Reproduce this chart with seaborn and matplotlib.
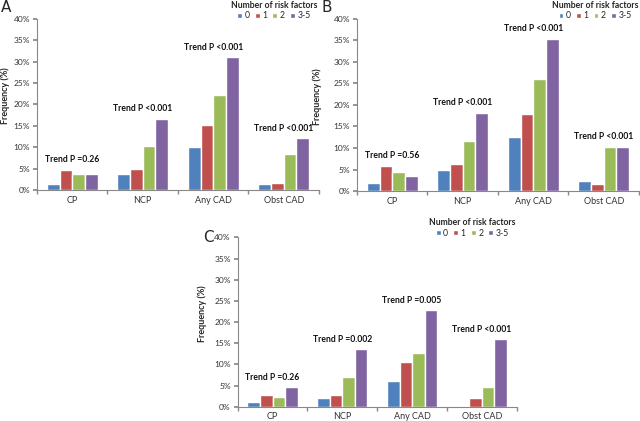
import numpy as np
import pandas as pd
import matplotlib
matplotlib.use("Agg")
import matplotlib.pyplot as plt
import seaborn as sns
from matplotlib.ticker import FuncFormatter, FixedLocator

categories = ["CP", "NCP", "Any CAD", "Obst CAD"]
risk_groups = ["0", "1", "2", "3-5"]
colors = ["#4F81BD", "#C0504D", "#9BBB59", "#8064A2"]

# frequency (%) per category, one list per risk group
panel_a = {
    "0": [1.5, 3.7, 10.0, 1.5],
    "1": [4.7, 5.0, 15.3, 1.7],
    "2": [3.7, 10.2, 22.2, 8.5],
    "3-5": [3.8, 16.7, 31.0, 12.1],
}
panel_b = {
    "0": [1.8, 4.8, 12.5, 2.4],
    "1": [5.9, 6.2, 18.0, 1.6],
    "2": [4.4, 11.6, 26.1, 10.2],
    "3-5": [3.4, 18.2, 35.3, 10.2],
}
panel_c = {
    "0": [1.0, 2.0, 6.0, 0.0],
    "1": [2.8, 2.8, 10.6, 2.1],
    "2": [2.3, 7.0, 12.8, 4.6],
    "3-5": [4.6, 13.6, 22.8, 15.9],
}
trend_a = ["Trend P =0.26", "Trend P <0.001", "Trend P <0.001", "Trend P <0.001"]
trend_b = ["Trend P =0.56", "Trend P <0.001", "Trend P <0.001", "Trend P <0.001"]
trend_c = ["Trend P =0.26", "Trend P =0.002", "Trend P =0.005", "Trend P <0.001"]

sns.set_theme(style="white")
plt.rcParams["font.family"] = ["Lato", "DejaVu Sans"]


def to_long(panel):
    rows = []
    for g in risk_groups:
        for c, v in zip(categories, panel[g]):
            rows.append({"cat": c, "grp": g, "val": v})
    return pd.DataFrame(rows)


def draw_panel(fig, rect, panel, trends, letter, letter_xy, leg_xy, ylab_x):
    ax = fig.add_axes(rect)
    df = to_long(panel)
    sns.barplot(data=df, x="cat", y="val", hue="grp", order=categories,
                hue_order=risk_groups, palette=colors, width=0.72,
                saturation=1, ax=ax, errorbar=None)
    ax.set_ylim(0, 40)
    ax.set_xlim(-0.5, 3.5)
    ax.set_yticks(np.arange(0, 41, 5))
    ax.yaxis.set_major_formatter(FuncFormatter(lambda v, p: f"{v:.0f}%"))
    ax.tick_params(axis="y", labelsize=6, length=3, color="#888888",
                   direction="out", left=True, pad=2, labelcolor="#333333")
    ax.tick_params(axis="x", labelsize=6.5, length=0, pad=4, labelcolor="#333333")
    ax.xaxis.set_minor_locator(FixedLocator([-0.5, 0.5, 1.5, 2.5, 3.5]))
    ax.tick_params(axis="x", which="minor", length=3, color="#888888",
                   direction="out", bottom=True)
    for s in ["top", "right"]:
        ax.spines[s].set_visible(False)
    for s in ["left", "bottom"]:
        ax.spines[s].set_color("#888888")
        ax.spines[s].set_linewidth(0.8)
    ax.set_xlabel("")
    ax.set_ylabel("Frequency (%)", fontsize=6.5, fontweight="bold")
    ax.yaxis.set_label_coords(ylab_x, 0.55)

    tops = np.max([panel[g] for g in risk_groups], axis=0)
    for i, (t, m) in enumerate(zip(trends, tops)):
        ax.text(i, m + 2.4, t, ha="center", va="center", fontsize=6.2,
                fontweight="bold", color="#111111")

    handles, labels = ax.get_legend_handles_labels()
    ax.get_legend().remove()
    leg = ax.legend(handles, labels, title="Number of risk factors", ncol=4,
                    loc="center", bbox_to_anchor=leg_xy,
                    bbox_transform=fig.transFigure, frameon=False,
                    fontsize=6.2, title_fontsize=6.2, handlelength=0.55,
                    handleheight=0.55, handletextpad=0.3, columnspacing=0.6,
                    borderpad=0, labelspacing=0.2)
    leg.get_title().set_fontweight("bold")
    fig.text(letter_xy[0], letter_xy[1], letter, fontsize=11,
             family="DejaVu Sans", ha="left", va="center")
    return ax


fig = plt.figure(figsize=(6.4, 4.21), dpi=100)
draw_panel(fig, [0.0578, 0.5487, 0.4406, 0.4062], panel_a, trend_a, "A",
           (0.002, 0.982), (0.428, 0.975), -0.096)
draw_panel(fig, [0.5578, 0.5463, 0.4406, 0.4086], panel_b, trend_b, "B",
           (0.503, 0.982), (0.93, 0.975), -0.124)
draw_panel(fig, [0.3714, 0.034, 0.436, 0.4019], panel_c, trend_c, "C",
           (0.318, 0.437), (0.738, 0.459), -0.11)

fig.savefig("out.png", dpi=100)
